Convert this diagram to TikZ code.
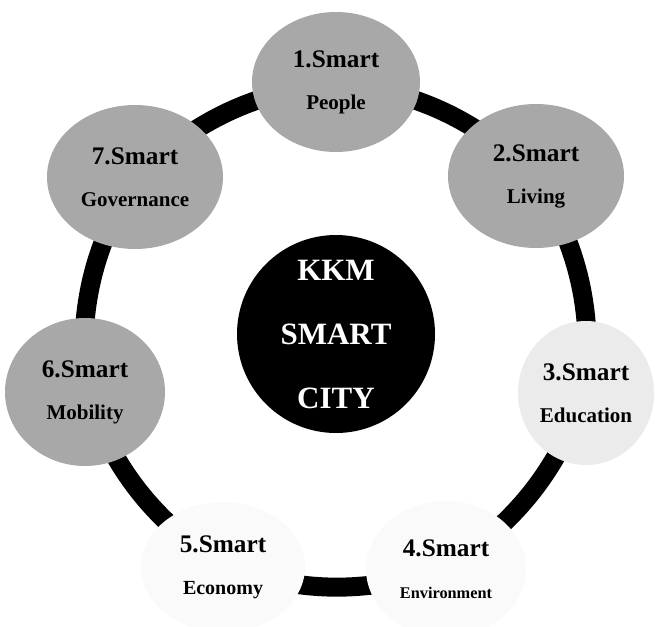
\documentclass[tikz,border=0pt]{standalone}
\usepackage{fontspec}
\setmainfont{Liberation Serif}
\usetikzlibrary{shapes.geometric,backgrounds}
\begin{document}
\begin{tikzpicture}[x=1pt,y=-1pt,
  pillar/.style={ellipse, draw=none, inner sep=0pt, align=center,
    font=\fontsize{25.3}{42}\selectfont\bfseries, text=black},
  dark/.style={pillar, fill=black!34},
  pale/.style={pillar, fill=black!8},
  faint/.style={pillar, fill=black!2},
  band/.style={line width=19pt, black},
  hub/.style={circle, fill=black, draw=none, minimum size=198pt, inner sep=0pt,
    align=center, text=white, font=\fontsize{31}{64}\selectfont\bfseries}]
\useasboundingbox (0,0) rectangle (655,626);

% centre of the ring
\node[hub] (city) at (336,334) {KKM\\SMART\\CITY};

% the seven pillars around the ring
\node[dark, minimum width=168pt, minimum height=140pt] (n1) at (336,82)
  {1.Smart\\{\fontsize{21}{42}\selectfont People}};
\node[dark, minimum width=176pt, minimum height=144pt] (n2) at (536,176)
  {2.Smart\\{\fontsize{21}{42}\selectfont Living}};
\node[pale, minimum width=136pt, minimum height=144pt] (n3) at (586,393)
  {3.Smart\\{\fontsize{21}{42}\selectfont Education}};
\node[faint, minimum width=160pt, minimum height=136pt] (n4) at (446,569)
  {4.Smart\\{\fontsize{16.3}{42}\selectfont Environment}};
\node[faint, minimum width=164pt, minimum height=130pt] (n5) at (223,567)
  {5.Smart\\{\fontsize{20}{42}\selectfont Economy}};
\node[dark, minimum width=160pt, minimum height=148pt] (n6) at (85,392)
  {6.Smart\\{\fontsize{21}{42}\selectfont Mobility}};
\node[dark, minimum width=176pt, minimum height=144pt] (n7) at (135,177)
  {7.Smart\\{\fontsize{21}{42}\selectfont Governance}};

% ring segments linking neighbouring pillars
\begin{pgfonlayer}{background}
  \draw[band] (n1.center) to[bend left=17] (n2.center);
  \draw[band] (n2.center) to[bend left=17] (n3.center);
  \draw[band] (n3.center) to[bend left=17] (n4.center);
  \draw[band] (n4.center) to[bend left=17] (n5.center);
  \draw[band] (n5.center) to[bend left=17] (n6.center);
  \draw[band] (n6.center) to[bend left=17] (n7.center);
  \draw[band] (n7.center) to[bend left=17] (n1.center);
\end{pgfonlayer}
\end{tikzpicture}
\end{document}
